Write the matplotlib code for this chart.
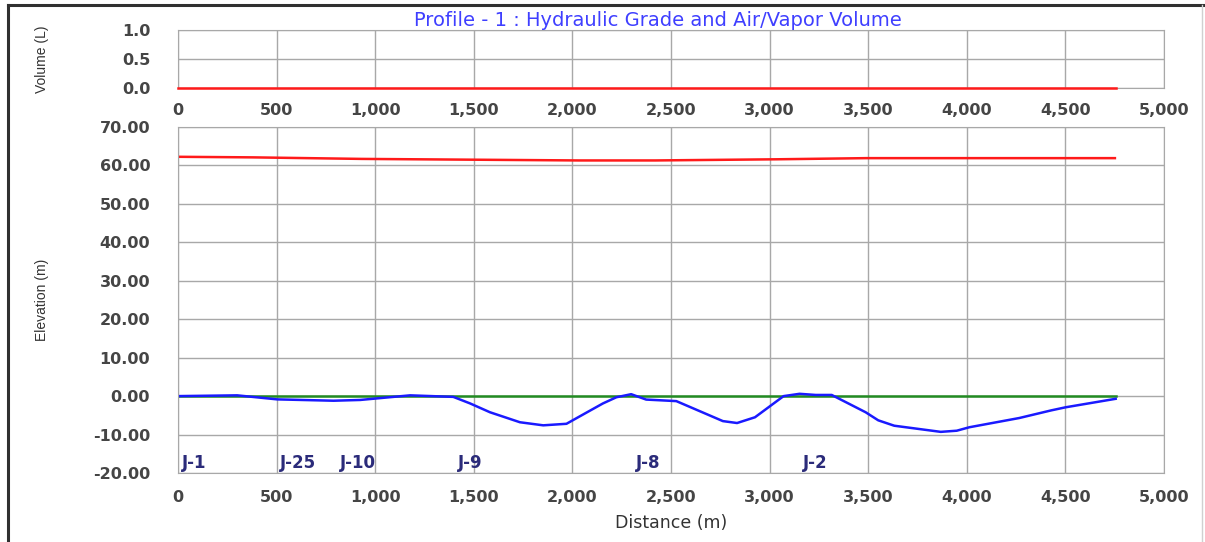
import matplotlib
matplotlib.use("Agg")
import matplotlib.pyplot as plt
from matplotlib.lines import Line2D
from matplotlib.ticker import FormatStrFormatter, FuncFormatter, MultipleLocator

plt.rcParams['font.family'] = ['DejaVu Sans']

# profile data (distance in m)
elev_dist = [0, 300, 503, 789, 924, 1177, 1396, 1481, 1582, 1734, 1852, 1970,
             2071, 2155, 2223, 2298, 2374, 2527, 2763, 2835, 2926, 3071, 3152,
             3234, 3315, 3487, 3551, 3632, 3868, 3949, 4013, 4266, 4429, 4502, 4755]
elevation = [0.0, 0.2, -0.85, -1.2, -1.0, 0.2, -0.2, -1.9, -4.2, -6.8, -7.6, -7.2,
             -4.3, -1.9, -0.3, 0.5, -0.9, -1.3, -6.5, -7.0, -5.5, 0.0, 0.6,
             0.3, 0.3, -4.2, -6.3, -7.7, -9.3, -9.0, -8.1, -5.7, -3.7, -2.9, -0.7]

hgl_dist = [0, 382, 933, 1485, 2032, 2420, 3035, 3491, 4751]
hgl = [62.25, 62.1, 61.7, 61.5, 61.3, 61.3, 61.6, 61.9, 61.9]

line_dist = [0, 4755]
ground_ref = [0.0, 0.0]
vapor_volume = [0.0, 0.0]

junctions = ["J-1", "J-25", "J-10", "J-9", "J-8", "J-2"]
junction_dist = [0, 495, 800, 1400, 2300, 3150]

tick_color = "#454545"
grid_color = "#a8a8a8"
narrow = ["Liberation Sans Narrow", "Liberation Sans"]

fig = plt.figure(figsize=(12.05, 5.42), dpi=100)
ax_vol = fig.add_axes([178 / 1205, 1 - 88 / 542, 986 / 1205, 58 / 542])
ax_el = fig.add_axes([178 / 1205, 1 - 473 / 542, 986 / 1205, 346 / 542])

thousands = FuncFormatter(lambda v, p: f"{int(v):,}")

for ax in (ax_vol, ax_el):
    ax.set_xlim(0, 5000)
    ax.xaxis.set_major_locator(MultipleLocator(500))
    ax.xaxis.set_major_formatter(thousands)
    ax.grid(True, color=grid_color, linewidth=1.0)
    ax.set_axisbelow(True)
    for s in ax.spines.values():
        s.set_color(grid_color)
    ax.tick_params(length=0, labelsize=11.5, labelcolor=tick_color)
    for lbl in ax.get_xticklabels() + ax.get_yticklabels():
        lbl.set_fontweight("bold")

# air/vapor volume panel
ax_vol.set_ylim(0, 1.0)
ax_vol.yaxis.set_major_locator(MultipleLocator(0.5))
ax_vol.yaxis.set_major_formatter(FormatStrFormatter("%.1f"))
ax_vol.tick_params(axis="x", pad=11)
ax_vol.tick_params(axis="y", pad=20)
ax_vol.plot(line_dist, vapor_volume, color="#ff1a1a", linewidth=1.8,
            clip_on=False, zorder=4)
ax_vol.set_ylabel("Volume (L)", family=narrow, fontsize=10, color="#333333")
ax_vol.yaxis.set_label_coords(-0.131, 0.5)

# elevation panel
ax_el.set_ylim(-20, 70)
ax_el.yaxis.set_major_locator(MultipleLocator(10))
ax_el.yaxis.set_major_formatter(FormatStrFormatter("%.2f"))
ax_el.tick_params(axis="x", pad=12)
ax_el.tick_params(axis="y", pad=20)
ax_el.plot(hgl_dist, hgl, color="#ff1a1a", linewidth=1.8)
ax_el.plot(line_dist, ground_ref, color="#228b22", linewidth=1.8)
ax_el.plot(elev_dist, elevation, color="#1a1aff", linewidth=1.8)
ax_el.set_ylabel("Elevation (m)", family=narrow, fontsize=10, color="#333333")
ax_el.yaxis.set_label_coords(-0.131, 0.5)
ax_el.set_xlabel("Distance (m)", fontsize=12.5, color="#333333", labelpad=7)

for name, d in zip(junctions, junction_dist):
    ax_el.annotate(name, xy=(d, -20), xytext=(3, 0.5), textcoords="offset points",
                   ha="left", va="bottom", fontsize=12, fontweight="bold",
                   color="#2b2b7a")

fig.text(658 / 1205, 1 - 20 / 542, "Profile - 1 : Hydraulic Grade and Air/Vapor Volume",
         ha="center", va="center", fontsize=14, color="#3f3fff")

# window frame
fig.add_artist(Line2D([8 / 1205, 8 / 1205], [0, 1 - 5 / 542], color="#303030",
                      linewidth=2.2, transform=fig.transFigure))
fig.add_artist(Line2D([8 / 1205, 1], [1 - 5 / 542, 1 - 5 / 542], color="#303030",
                      linewidth=2.2, transform=fig.transFigure))
fig.add_artist(Line2D([1202 / 1205, 1202 / 1205], [0, 1 - 5 / 542], color="#d0d0d0",
                      linewidth=1.0, transform=fig.transFigure))

fig.savefig("out.png", dpi=100)
